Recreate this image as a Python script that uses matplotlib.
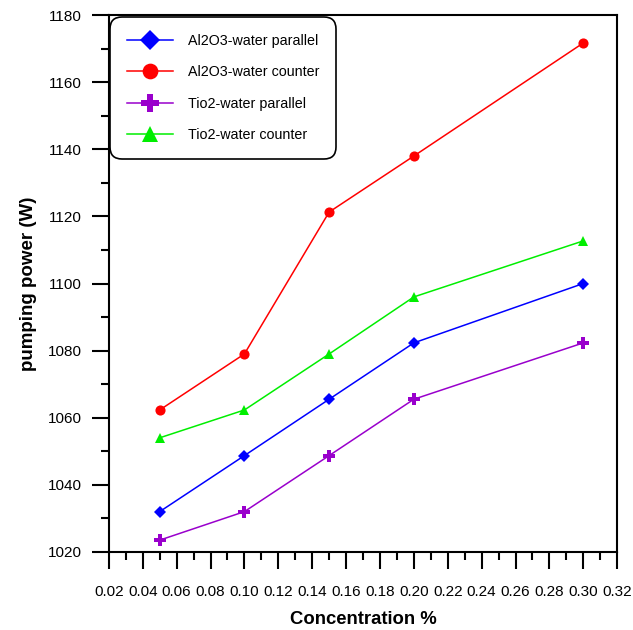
import matplotlib
matplotlib.use("Agg")
import matplotlib.pyplot as plt
from matplotlib.ticker import MultipleLocator, FormatStrFormatter

plt.rcParams['font.family'] = ['Liberation Sans', 'DejaVu Sans']

conc = [0.05, 0.10, 0.15, 0.20, 0.30]
al2o3_parallel = [1032.0, 1048.7, 1065.5, 1082.3, 1100.0]
al2o3_counter = [1062.3, 1079.0, 1121.3, 1138.0, 1171.7]
tio2_parallel = [1023.5, 1032.0, 1048.7, 1065.5, 1082.3]
tio2_counter = [1054.0, 1062.3, 1079.0, 1096.0, 1112.7]

series = [
    ("Al2O3-water parallel", al2o3_parallel, "#0000ff", "D", 6.5),
    ("Al2O3-water counter", al2o3_counter, "#ff0000", "o", 7.3),
    ("Tio2-water parallel", tio2_parallel, "#9900cc", "P", 8),
    ("Tio2-water counter", tio2_counter, "#00ee00", "^", 7.3),
]

fig = plt.figure(figsize=(6.33, 6.30), dpi=100)
ax = fig.add_axes([0.172, 0.124, 0.803, 0.852])

for label, vals, col, mk, ms in series:
    ax.plot(conc, vals, color=col, marker=mk, markersize=ms, linewidth=1.1,
            label=label, markeredgewidth=0)

ax.set_xlim(0.02, 0.32)
ax.set_ylim(1020, 1180)
ax.xaxis.set_major_locator(MultipleLocator(0.02))
ax.xaxis.set_minor_locator(MultipleLocator(0.01))
ax.yaxis.set_major_locator(MultipleLocator(20))
ax.yaxis.set_minor_locator(MultipleLocator(10))
ax.xaxis.set_major_formatter(FormatStrFormatter('%.2f'))
ax.tick_params(which='major', direction='out', length=12.5, width=1.5, labelsize=11)
ax.tick_params(which='minor', direction='out', length=6, width=1.5)
ax.tick_params(axis='x', which='major', pad=11)
ax.tick_params(axis='y', which='major', pad=7)
for s in ax.spines.values():
    s.set_linewidth(1.5)

ax.set_xlabel("Concentration %", fontsize=13.3, fontweight='bold', labelpad=9)
ax.set_ylabel("pumping power (W)", fontsize=13.5, fontweight='bold', labelpad=8)

leg = ax.legend(loc='upper left', bbox_to_anchor=(0.003, 0.996), fontsize=10.3,
                handlelength=3.2, handletextpad=1.05, labelspacing=1.22,
                borderpad=1.15, borderaxespad=0, fancybox=True, framealpha=1,
                edgecolor='black', markerscale=1.55)
leg.get_frame().set_linewidth(1.2)
leg.get_frame().set_boxstyle('round', pad=0.0, rounding_size=0.8)

fig.savefig("out.png", dpi=100)
